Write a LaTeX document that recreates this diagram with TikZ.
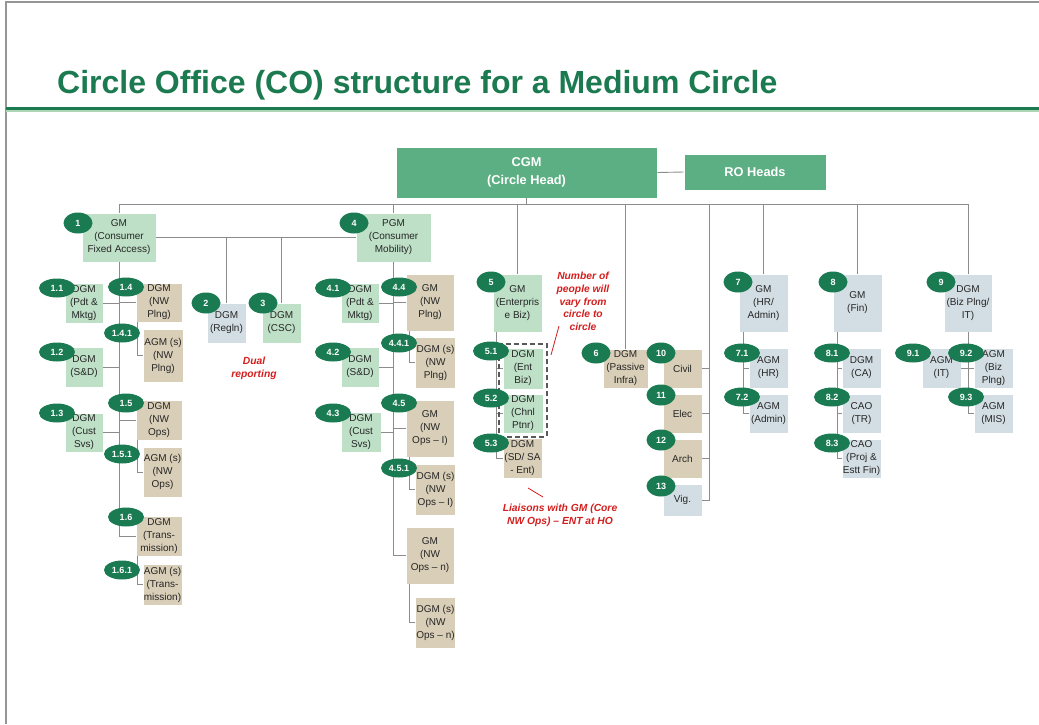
\documentclass[tikz,border=0pt]{standalone}
\usepackage{fontspec}
\setmainfont{Liberation Sans}
\usetikzlibrary{shapes.geometric,fit}

\definecolor{boxgreen}{RGB}{190,224,199}
\definecolor{boxtan}{RGB}{217,206,183}
\definecolor{boxblue}{RGB}{211,222,228}
\definecolor{headgreen}{RGB}{92,175,131}
\definecolor{badgegreen}{RGB}{26,122,82}
\definecolor{titlegreen}{RGB}{28,122,80}
\definecolor{palegreen}{RGB}{172,214,182}
\definecolor{linegray}{RGB}{140,140,140}
\definecolor{framegray}{RGB}{150,150,150}
\definecolor{notered}{RGB}{212,30,30}

\tikzset{
	box/.style={rectangle, align=center, inner sep=1pt, draw=white, line width=0.6,
		text=black!85, font=\fontsize{10}{13}\selectfont},
	gbox/.style={box, fill=boxgreen},
	tbox/.style={box, fill=boxtan},
	bbox/.style={box, fill=boxblue},
	headbox/.style={rectangle, align=center, fill=headgreen, draw=white, line width=0.6,
		text=white, font=\bfseries\fontsize{12.8}{18}\selectfont},
	badge/.style={ellipse, fill=badgegreen, text=white, inner sep=0pt,
		minimum width=29, minimum height=21, font=\bfseries\fontsize{9}{10}\selectfont},
	longbadge/.style={badge, minimum width=36, minimum height=19},
	link/.style={draw=linegray, line width=0.9},
	note/.style={align=center, text=notered, font=\bfseries\itshape\fontsize{10.3}{12.7}\selectfont},
	pointer/.style={draw=notered, line width=0.8},
	dashbox/.style={draw=black!65, line width=1.8, dash pattern=on 5pt off 3pt, inner sep=3.5pt}
}

\begin{document}
\begin{tikzpicture}[x=1pt, y=-1pt, line cap=butt]

			% constants
			\pgfmathsetmacro{\busy}{204};
			\pgfmathsetmacro{\gridx}{709};

			\useasboundingbox (0,0) rectangle (1039,724);

			% frame and title
			\draw[framegray, line width=1.2] (6,724) -- (6,2) -- (1039,2);
			\draw[titlegreen, line width=2.6] (6,108.6) -- (1039,108.6);
			\draw[palegreen, line width=2] (6,111.2) -- (1039,111.2);
			\node[anchor=base west, inner sep=0, text=titlegreen,
				font=\bfseries\fontsize{32}{36}\selectfont] (title) at (57,93)
				{Circle Office (CO) structure for a Medium Circle};

			% head
			\node[headbox, minimum width=261, minimum height=51] (cgm) at (526.5,172.5)
				{CGM\\(Circle Head)};
			\node[headbox, minimum width=142, minimum height=36] (ro) at (755,172)
				{RO Heads};

			% consumer fixed access
			\node[gbox, minimum width=74, minimum height=49] (n1) at (119,237.5)
				{GM\\(Consumer\\Fixed Access)};
			\node[gbox, minimum width=38, minimum height=40] (n1-1) at (84,303)
				{DGM\\(Pdt \&\\Mktg)};
			\node[gbox, minimum width=38, minimum height=40] (n1-2) at (84,367)
				{DGM\\(S\&D)};
			\node[gbox, minimum width=38, minimum height=39] (n1-3) at (84,432.5)
				{DGM\\(Cust\\Svs)};
			\node[tbox, minimum width=46, minimum height=39] (n1-4) at (159,302.5)
				{DGM\\(NW\\Plng)};
			\node[tbox, minimum width=40, minimum height=53] (n1-4-1) at (163,355.5)
				{AGM (s)\\(NW\\Plng)};
			\node[tbox, minimum width=46, minimum height=40] (n1-5) at (159,420)
				{DGM\\(NW\\Ops)};
			\node[tbox, minimum width=39, minimum height=50] (n1-5-1) at (162.5,472)
				{AGM (s)\\(NW\\Ops)};
			\node[tbox, minimum width=46, minimum height=40] (n1-6) at (159,536)
				{DGM\\(Trans-\\mission)};
			\node[tbox, minimum width=39, minimum height=41] (n1-6-1) at (162.5,584.5)
				{AGM (s)\\(Trans-\\mission)};

			% dual reporting
			\node[bbox, minimum width=39, minimum height=40] (n2) at (226.5,323)
				{DGM\\(Regln)};
			\node[gbox, minimum width=39, minimum height=40] (n3) at (281.5,323)
				{DGM\\(CSC)};

			% consumer mobility
			\node[gbox, minimum width=75, minimum height=49] (n4) at (393.5,237.5)
				{PGM\\(Consumer\\Mobility)};
			\node[gbox, minimum width=38, minimum height=40] (n4-1) at (360,303)
				{DGM\\(Pdt \&\\Mktg)};
			\node[gbox, minimum width=38, minimum height=40] (n4-2) at (360,367)
				{DGM\\(S\&D)};
			\node[gbox, minimum width=40, minimum height=40] (n4-3) at (361,432)
				{DGM\\(Cust\\Svs)};
			\node[tbox, minimum width=48, minimum height=57] (n4-4) at (430,302.5)
				{GM\\(NW\\Plng)};
			\node[tbox, minimum width=39, minimum height=51] (n4-4-1) at (435.5,362.5)
				{DGM (s)\\(NW\\Plng)};
			\node[tbox, minimum width=48, minimum height=57] (n4-5) at (430,428.5)
				{GM\\(NW\\Ops -- I)};
			\node[tbox, minimum width=39, minimum height=51] (n4-5-1) at (435.5,489.5)
				{DGM (s)\\(NW\\Ops -- I)};
			\node[tbox, minimum width=48, minimum height=57] (n4-n) at (430,555.5)
				{GM\\(NW\\Ops -- n)};
			\node[tbox, minimum width=39, minimum height=51] (n4-n-1) at (435.5,622.5)
				{DGM (s)\\(NW\\Ops -- n)};

			% enterprise
			\node[gbox, minimum width=49, minimum height=58] (n5) at (517.5,303)
				{GM\\(Enterpris\\e Biz)};
			\node[gbox, minimum width=40, minimum height=41] (n5-1) at (523,368.5)
				{DGM\\(Ent\\Biz)};
			\node[gbox, minimum width=40, minimum height=39] (n5-2) at (523,413.5)
				{DGM\\(Chnl\\Ptnr)};
			\node[tbox, minimum width=39, minimum height=40] (n5-3) at (522.5,458)
				{DGM\\(SD/ SA\\- Ent)};

			% passive infra and the four cells
			\node[tbox, minimum width=45, minimum height=39] (n6) at (625.5,368.5)
				{DGM\\(Passive\\Infra)};
			\node[tbox, minimum width=39, minimum height=39] (n10) at (682.5,368.5) {Civil};
			\node[tbox, minimum width=39, minimum height=39] (n11) at (682.5,413.5) {Elec};
			\node[tbox, minimum width=39, minimum height=39] (n12) at (682.5,458.5) {Arch};
			\node[bbox, minimum width=39, minimum height=32] (n13) at (682.5,500) {Vig.};

			% hr, finance, planning
			\node[bbox, minimum width=49, minimum height=58] (n7) at (763.5,303)
				{GM\\(HR/\\Admin)};
			\node[bbox, minimum width=39, minimum height=40] (n7-1) at (768.5,368)
				{AGM\\(HR)};
			\node[bbox, minimum width=39, minimum height=39] (n7-2) at (768.5,413.5)
				{AGM\\(Admin)};
			\node[bbox, minimum width=49, minimum height=58] (n8) at (857.5,303)
				{GM\\(Fin)};
			\node[bbox, minimum width=39, minimum height=40] (n8-1) at (861.5,368)
				{DGM\\(CA)};
			\node[bbox, minimum width=39, minimum height=39] (n8-2) at (861.5,413.5)
				{CAO\\(TR)};
			\node[bbox, minimum width=39, minimum height=39] (n8-3) at (861.5,458.5)
				{CAO\\(Proj \&\\Estt Fin)};
			\node[bbox, minimum width=48, minimum height=58] (n9) at (968,303)
				{DGM\\(Biz Plng/\\IT)};
			\node[bbox, minimum width=39, minimum height=40] (n9-1) at (941.5,368)
				{AGM\\(IT)};
			\node[bbox, minimum width=39, minimum height=40] (n9-2) at (993.5,368)
				{AGM\\(Biz\\Plng)};
			\node[bbox, minimum width=39, minimum height=39] (n9-3) at (993.5,413.5)
				{AGM\\(MIS)};

			% bus
			\coordinate (bus) at (0,\busy);
			\coordinate (grid) at (\gridx,\busy);
			\draw[link] (cgm.east) -- (ro.west);
			\draw[link] (cgm.south) -- (cgm.south |- bus);
			\draw[link] (n1.north |- bus) -- (n9.north |- bus);
			\foreach \n in {n1,n4,n5,n6,n7,n8,n9}
				\draw[link] (\n.north |- bus) -- (\n.north);
			\draw[link] (grid) |- (n13.east);
			\foreach \n in {n10,n11,n12}
				\draw[link] (\n.east) -- (\n.east -| grid);

			% dual reporting lines
			\draw[link] (n1.east) -- (n4.west);
			\draw[link] (n2.north |- n1.east) -- (n2.north);
			\draw[link] (n3.north |- n1.east) -- (n3.north);

			% stem of 1
			\draw[link] (n1.south) |- (n1-6.west);
			\foreach \n in {n1-1,n1-2,n1-3}
				\draw[link] (\n.east) -- (\n.east -| n1.south);
			\foreach \n in {n1-4,n1-5}
				\draw[link] (\n.west) -- (\n.west -| n1.south);
			\foreach \p/\c in {n1-4/n1-4-1,n1-5/n1-5-1,n1-6/n1-6-1}
				\draw[link] ([xshift=2]\p.south west) |- (\c.west);

			% stem of 4
			\draw[link] (n4.south) |- (n4-n.west);
			\foreach \n in {n4-1,n4-2,n4-3}
				\draw[link] (\n.east) -- (\n.east -| n4.south);
			\foreach \n in {n4-4,n4-5}
				\draw[link] (\n.west) -- (\n.west -| n4.south);
			\foreach \p/\c in {n4-4/n4-4-1,n4-5/n4-5-1,n4-n/n4-n-1}
				\draw[link] ([xshift=4]\p.south west) |- (\c.west);

			% stems of 5, 7, 8, 9
			\coordinate (s5) at ([xshift=4]n5.south west);
			\coordinate (s7) at ([xshift=5]n7.south west);
			\coordinate (s8) at ([xshift=5]n8.south west);
			\draw[link] (s5) |- (n5-3.west);
			\foreach \n in {n5-1,n5-2}
				\draw[link] (\n.west) -- (\n.west -| s5);
			\draw[link] (s7) |- (n7-2.west);
			\draw[link] (n7-1.west) -- (n7-1.west -| s7);
			\draw[link] (s8) |- (n8-3.west);
			\foreach \n in {n8-1,n8-2}
				\draw[link] (\n.west) -- (\n.west -| s8);
			\draw[link] (n9.south) |- (n9-3.west);
			\draw[link] (n9-1.east) -- (n9-1.east -| n9.south);
			\draw[link] (n9-2.west) -- (n9-2.west -| n9.south);

			% dashed group
			\node[dashbox, fit=(n5-1)(n5-2)] (entgrp) {};

			% badges
			\node[badge] (b1) at (78,223) {1};
			\node[longbadge] (b1-1) at (57,288) {1.1};
			\node[longbadge] (b1-2) at (57,352) {1.2};
			\node[longbadge] (b1-3) at (57,413) {1.3};
			\node[longbadge] (b1-4) at (126,287) {1.4};
			\node[longbadge] (b1-4-1) at (122,333) {1.4.1};
			\node[longbadge] (b1-5) at (126,403) {1.5};
			\node[longbadge] (b1-5-1) at (122,454) {1.5.1};
			\node[longbadge] (b1-6) at (126,517) {1.6};
			\node[longbadge] (b1-6-1) at (122,570) {1.6.1};
			\node[badge] (b2) at (206,303) {2};
			\node[badge] (b3) at (263,303) {3};
			\node[badge] (b4) at (354,223) {4};
			\node[longbadge] (b4-1) at (333,288) {4.1};
			\node[longbadge] (b4-2) at (333,352) {4.2};
			\node[longbadge] (b4-3) at (333,413) {4.3};
			\node[longbadge] (b4-4) at (399,287) {4.4};
			\node[longbadge] (b4-4-1) at (399,343) {4.4.1};
			\node[longbadge] (b4-5) at (399,403) {4.5};
			\node[longbadge] (b4-5-1) at (399,468) {4.5.1};
			\node[badge] (b5) at (491,282) {5};
			\node[longbadge] (b5-1) at (491,351) {5.1};
			\node[longbadge] (b5-2) at (491,398) {5.2};
			\node[longbadge] (b5-3) at (491,443) {5.3};
			\node[badge] (b6) at (596,353) {6};
			\node[badge] (b10) at (661,353) {10};
			\node[badge] (b11) at (661,395) {11};
			\node[badge] (b12) at (661,440) {12};
			\node[badge] (b13) at (661,486) {13};
			\node[badge] (b7) at (738,282) {7};
			\node[longbadge] (b7-1) at (742,353) {7.1};
			\node[longbadge] (b7-2) at (742,397) {7.2};
			\node[badge] (b8) at (833,282) {8};
			\node[longbadge] (b8-1) at (832,353) {8.1};
			\node[longbadge] (b8-2) at (832,397) {8.2};
			\node[longbadge] (b8-3) at (832,443) {8.3};
			\node[badge] (b9) at (941,282) {9};
			\node[longbadge] (b9-1) at (913,353) {9.1};
			\node[longbadge] (b9-2) at (966,353) {9.2};
			\node[longbadge] (b9-3) at (966,397) {9.3};

			% notes
			\node[note] (dualnote) at (254,368.5) {Dual\\reporting};
			\node[note] (countnote) at (583,301.5)
				{Number of\\people will\\vary from\\circle to\\circle};
			\node[note] (liaisnote) at (560,515.5)
				{Liaisons with GM (Core\\NW Ops) -- ENT at HO};
			\coordinate (counttail) at (559,326);
			\coordinate (counthead) at (551,355);
			\coordinate (liaistail) at (528,488);
			\coordinate (liaishead) at (543,497);
			\draw[pointer] (counttail) -- (counthead);
			\draw[pointer] (liaistail) -- (liaishead);

		\end{tikzpicture}
\end{document}
